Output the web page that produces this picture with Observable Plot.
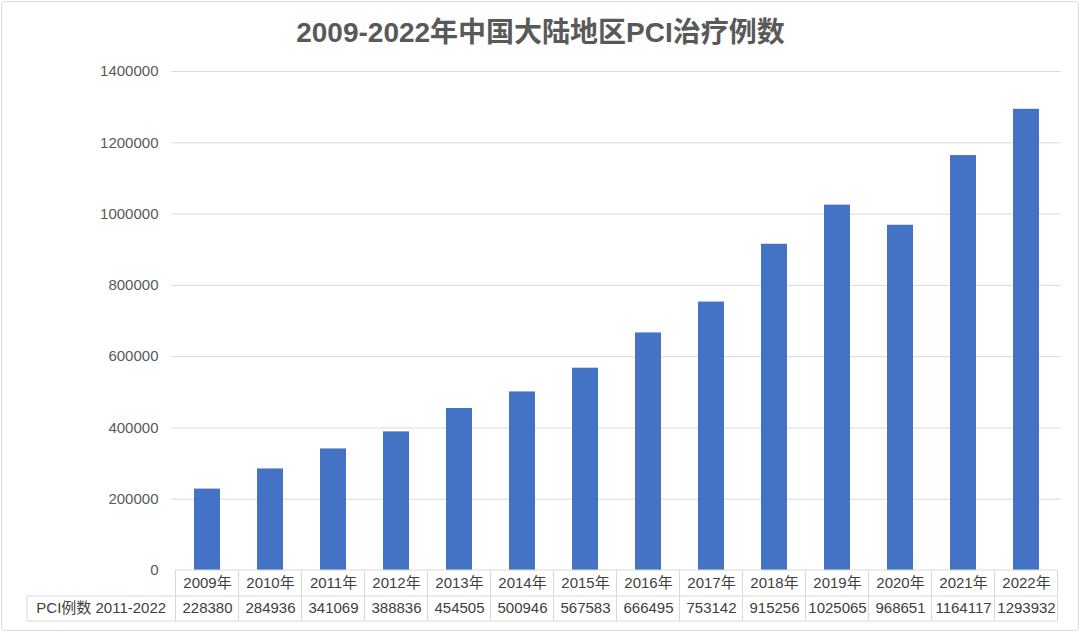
<!DOCTYPE html>
<html><head><meta charset="utf-8">
<script src="https://cdn.jsdelivr.net/npm/d3@7"></script>
<script src="https://cdn.jsdelivr.net/npm/@observablehq/plot@0.6"></script>
<style>body{margin:0;background:#fff;}</style>
</head><body><div id="chart"></div>
<script>
const title = "2009-2022年中国大陆地区PCI治疗例数";
const years = ["2009年","2010年","2011年","2012年","2013年","2014年","2015年","2016年","2017年","2018年","2019年","2020年","2021年","2022年"];
const cases = [228380,284936,341069,388836,454505,500946,567583,666495,753142,915256,1025065,968651,1164117,1293932];
const seriesLabel = "PCI例数 2011-2022";
const yTicks = [0,200000,400000,600000,800000,1000000,1200000,1400000];

const data = years.map((y,i)=>({year:y, value:cases[i]}));
const font = "'Liberation Sans', 'Noto Sans CJK SC', sans-serif";
const textColor = "#404040";

const chart = Plot.plot({
  width:1080, height:633,
  marginLeft:171, marginRight:19, marginTop:71, marginBottom:63,
  style:{fontFamily:font, fontSize:"15px", color:"#595959", background:"#fff"},
  x:{domain:years, paddingInner:0.59, paddingOuter:0.295, axis:null},
  y:{domain:[0,1400000], ticks:yTicks, tickFormat:d=>String(d), tickSize:0, tickPadding:13, label:null},
  marks:[
    Plot.ruleY(yTicks.filter(d=>d>0), {stroke:"#d9d9d9", strokeWidth:1}),
    Plot.barY(data, {x:"year", y:"value", fill:"#4472C4"}),
    Plot.text(years, {x:d=>d, y:0, dy:13, text:d=>d, fill:textColor, fontSize:15}),
    Plot.text(data, {x:"year", y:0, dy:38, text:d=>String(d.value), fill:textColor, fontSize:15}),
    Plot.text([title], {frameAnchor:"top", lineAnchor:"middle", dx:-76, dy:-38, text:d=>d, fontSize:28, fontWeight:600, fill:"#595959"})
  ]
});
document.getElementById("chart").append(chart);

// data table grid below the plot, positioned from the library's scales
const sx = chart.scale("x"), sy = chart.scale("y");
const svg = d3.select(chart);
const step = sx.step ?? ((sx.range[1]-sx.range[0]) / years.length);
const bw = sx.bandwidth ?? 0;
const centers = years.map(y => sx.apply(y) + bw/2);
const edges = centers.map(c => c - step/2).concat([centers[centers.length-1] + step/2]);
const y0 = sy.apply(0);
const row1 = y0 + 26, row2 = y0 + 51;
const tableLeft = 27;
const g = svg.append("g").attr("stroke", "#d9d9d9").attr("stroke-width", 1).attr("fill", "none");
const L = (x1,y1,x2,y2) => g.append("line").attr("x1",x1).attr("y1",y1).attr("x2",x2).attr("y2",y2);
L(edges[0], y0, edges[edges.length-1], y0);
L(tableLeft, row1, edges[edges.length-1], row1);
L(tableLeft, row2, edges[edges.length-1], row2);
edges.forEach(e => L(e, y0, e, row2));
L(tableLeft, row1, tableLeft, row2);
svg.append("text").attr("x", (tableLeft + edges[0]) / 2).attr("y", y0 + 38)
  .attr("text-anchor","middle").attr("dy","0.32em").attr("fill", textColor)
  .attr("font-size", 15).attr("font-family", font).text(seriesLabel);
// outer frame
svg.append("rect").attr("x",1.5).attr("y",1.5).attr("width",1077).attr("height",629)
  .attr("rx",4).attr("fill","none").attr("stroke","#d9d9d9");
</script>
</body></html>
